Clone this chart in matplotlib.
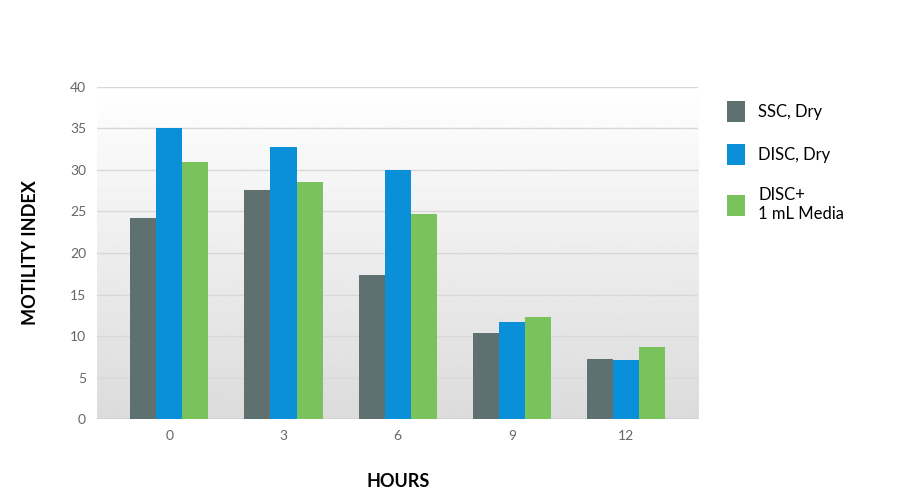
import numpy as np
import matplotlib.pyplot as plt

hours = ["0", "3", "6", "9", "12"]
ssc_dry = [24.2, 27.6, 17.3, 10.4, 7.2]
disc_dry = [35.0, 32.8, 30.0, 11.7, 7.1]
disc_media = [31.0, 28.6, 24.7, 12.3, 8.7]
labels = ["SSC, Dry", "DISC, Dry", "DISC+\n1 mL Media"]
colors = ["#5f7070", "#0a90d8", "#7ac25c"]

plt.rcParams['font.family'] = ['Lato', 'DejaVu Sans']
fig = plt.figure(figsize=(9, 4.96), dpi=100)
ax = fig.add_axes([0.108, 0.155, 0.668, 0.670])

x = np.arange(len(hours))
w = 0.228
ax.set_xlim(-0.63, 4.63)
ax.set_ylim(0, 40)

# gradient background
grad = np.linspace(0.86, 1.0, 256).reshape(-1, 1)
ax.imshow(grad, extent=(-0.63, 4.63, 0, 40), aspect='auto', cmap='gray',
          vmin=0, vmax=1, origin='lower', zorder=0)
for yv in range(5, 41, 5):
    ax.axhline(yv, color="#d8d8d8", lw=1, zorder=1)
ax.axhline(0, color="#b0b0b0", lw=1, zorder=1)

handles = []
for i, (vals, c) in enumerate(zip([ssc_dry, disc_dry, disc_media], colors)):
    b = ax.bar(x + (i - 1) * w, vals, width=w, color=c, zorder=2)
    handles.append(b)

ax.set_xticks(x, hours)
ax.set_yticks(range(0, 41, 5))
ax.tick_params(length=0, labelsize=10, colors="#666666", pad=8)
for s in ax.spines.values():
    s.set_visible(False)
ax.set_xlabel("HOURS", fontsize=13, fontweight='bold', labelpad=22)
ax.set_ylabel("MOTILITY INDEX", fontsize=13, fontweight='bold', labelpad=22)

fig.legend(handles, labels, loc='upper left', bbox_to_anchor=(0.8, 0.81),
           frameon=False, fontsize=12, handlelength=1.1, handleheight=1.6,
           labelspacing=1.3, borderaxespad=0)
fig.savefig("out.png")
